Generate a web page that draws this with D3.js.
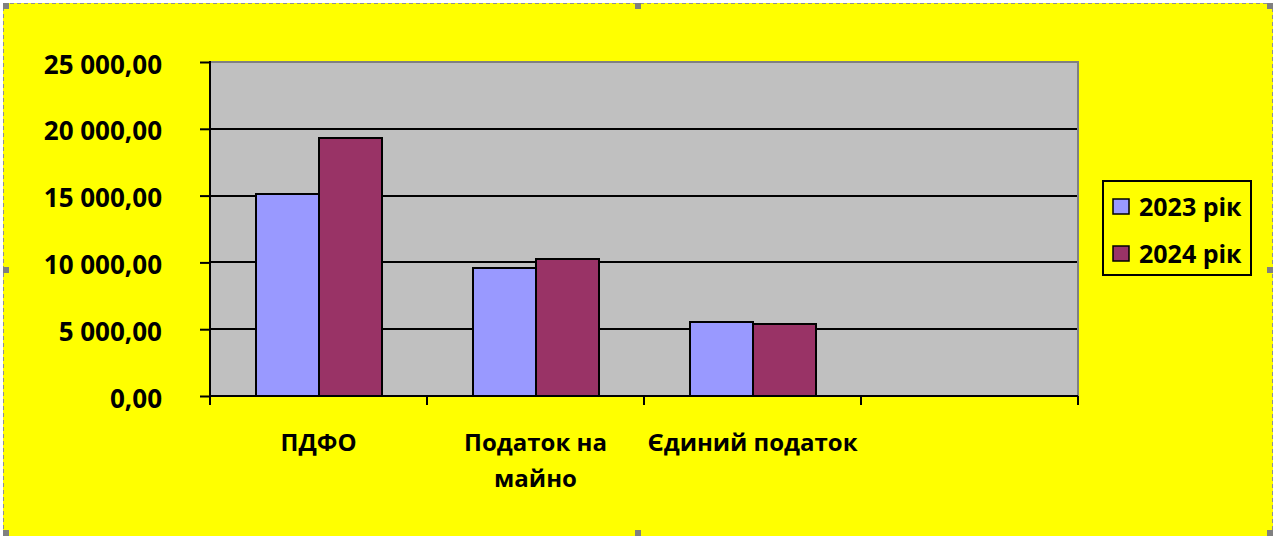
<!DOCTYPE html>
<html>
<head>
<meta charset="utf-8">
<script src="https://cdn.jsdelivr.net/npm/d3@7"></script>
<style>
  html, body { margin: 0; padding: 0; background: #ffffff; }
  svg { display: block; }
  text { font-family: "Open Sans", "DejaVu Sans", sans-serif; font-weight: bold; fill: #000; }
</style>
</head>
<body>
<svg id="chart" width="1276" height="536"></svg>
<script>
// ---- data ----
const categories = ["ПДФО", "Податок на майно", "Єдиний податок", ""];
const seriesNames = ["2023 рік", "2024 рік"];
const values2023 = [15120, 9580, 5540, null];
const values2024 = [19320, 10250, 5390, null];
const yTickValues = [0, 5000, 10000, 15000, 20000, 25000];
const seriesColors = ["#9999FF", "#993366"];

// ---- layout ----
const plot = { left: 210, top: 62, right: 1078, bottom: 396 };

const svg = d3.select("#chart");

// chart area background + selection frame
svg.append("rect").attr("x", 3).attr("y", 3).attr("width", 1270).attr("height", 533)
  .attr("fill", "#FFFF00");
svg.append("path")
  .attr("d", "M3.5,536 L3.5,3.5 L1272.5,3.5 L1272.5,536")
  .attr("fill", "none").attr("stroke", "#909090").attr("stroke-width", 1)
  .attr("stroke-dasharray", "4,3");
const handles = [[3,3],[635,3],[1267,3],[3,267],[1267,267],[3,530],[635,530],[1267,530]];
svg.selectAll("rect.handle").data(handles).enter().append("rect")
  .attr("class", "handle")
  .attr("x", d => d[0]).attr("y", d => d[1]).attr("width", 6).attr("height", 6)
  .attr("fill", "#808080");

// scales
const x = d3.scaleBand().domain(categories).range([plot.left, plot.right]).padding(0);
const x1 = d3.scaleBand().domain(seriesNames).range([0, x.bandwidth()]).paddingInner(0).paddingOuter(0.73);
const y = d3.scaleLinear().domain([0, 25000]).range([plot.bottom, plot.top]);

// plot background
svg.append("rect")
  .attr("x", plot.left).attr("y", plot.top)
  .attr("width", plot.right - plot.left).attr("height", plot.bottom - plot.top)
  .attr("fill", "#C0C0C0");

// gridlines
svg.append("g").selectAll("line").data(yTickValues.filter(v => v > 0 && v < 25000)).enter()
  .append("line")
  .attr("x1", plot.left).attr("x2", plot.right)
  .attr("y1", d => Math.round(y(d))).attr("y2", d => Math.round(y(d)))
  .attr("stroke", "#000").attr("stroke-width", 2);

// plot border (top/right gray)
svg.append("path")
  .attr("d", `M${plot.left},${plot.top} L${plot.right},${plot.top} L${plot.right},${plot.bottom}`)
  .attr("fill", "none").attr("stroke", "#808080").attr("stroke-width", 2);

// bars
const barData = [];
categories.forEach((c, i) => {
  [values2023, values2024].forEach((arr, s) => {
    if (arr[i] != null) barData.push({ cat: c, series: seriesNames[s], value: arr[i], color: seriesColors[s] });
  });
});
svg.append("g").selectAll("rect").data(barData).enter().append("rect")
  .attr("x", d => Math.round(x(d.cat) + x1(d.series)))
  .attr("y", d => Math.round(y(d.value)))
  .attr("width", Math.round(x1.bandwidth()))
  .attr("height", d => Math.round(y(0)) - Math.round(y(d.value)))
  .attr("fill", d => d.color)
  .attr("stroke", "#000").attr("stroke-width", 2);

// y axis
const locale = d3.formatLocale({ decimal: ",", thousands: "\u00a0", grouping: [3], currency: ["", ""] });
const fmt = locale.format(",.2f");
const yAxis = svg.append("g")
  .attr("transform", `translate(${plot.left},0)`)
  .call(d3.axisLeft(y).tickValues(yTickValues).tickSize(10).tickPadding(38).tickFormat(fmt));
yAxis.select(".domain").remove();
yAxis.selectAll(".tick line").attr("stroke", "#000").attr("stroke-width", 2);
yAxis.selectAll(".tick text")
  .attr("font-size", 26).attr("dy", "0.43em")
  .style("font-family", '"Open Sans", sans-serif').style("font-weight", "bold");
svg.append("line")
  .attr("x1", plot.left).attr("x2", plot.left).attr("y1", plot.top - 1).attr("y2", plot.bottom)
  .attr("stroke", "#000").attr("stroke-width", 2);

// x axis
svg.append("line")
  .attr("x1", plot.left).attr("x2", plot.right).attr("y1", plot.bottom).attr("y2", plot.bottom)
  .attr("stroke", "#000").attr("stroke-width", 2);
const boundaries = categories.map(c => x(c)).concat([x.range()[1]]);
svg.append("g").selectAll("line").data(boundaries).enter().append("line")
  .attr("x1", d => d).attr("x2", d => d)
  .attr("y1", plot.bottom).attr("y2", plot.bottom + 9)
  .attr("stroke", "#000").attr("stroke-width", 2);

const xAxis = svg.append("g")
  .attr("transform", `translate(0,${plot.bottom})`)
  .call(d3.axisBottom(x).tickSize(0).tickPadding(0));
xAxis.select(".domain").remove();
xAxis.selectAll(".tick text")
  .attr("font-size", 24)
  .style("font-family", '"Open Sans", sans-serif').style("font-weight", "bold")
  .attr("y", 54.5).attr("dy", 0)
  .each(function (d) {
    const t = d3.select(this);
    const words = d.split(" ");
    const maxW = x.bandwidth();
    t.text(null);
    let line = [];
    let tspan = t.append("tspan").attr("x", 0).attr("dy", 0);
    words.forEach(w => {
      line.push(w);
      tspan.text(line.join(" "));
      if (tspan.node().getComputedTextLength() > maxW && line.length > 1) {
        line.pop();
        tspan.text(line.join(" "));
        line = [w];
        tspan = t.append("tspan").attr("x", 0).attr("dy", 36).text(w);
      }
    });
  });

// legend
const legend = svg.append("g");
legend.append("rect")
  .attr("x", 1103).attr("y", 181).attr("width", 148).attr("height", 94)
  .attr("fill", "none").attr("stroke", "#000").attr("stroke-width", 2);
const items = legend.selectAll("g.item").data(seriesNames).enter().append("g")
  .attr("class", "item")
  .attr("transform", (d, i) => `translate(1113,${199 + i * 47})`);
items.append("rect")
  .attr("width", 16).attr("height", 15)
  .attr("fill", (d, i) => seriesColors[i])
  .attr("stroke", "#000").attr("stroke-width", 1.5);
items.append("text")
  .attr("x", 26).attr("y", 17)
  .attr("font-size", 25)
  .text(d => d);
</script>
</body>
</html>
